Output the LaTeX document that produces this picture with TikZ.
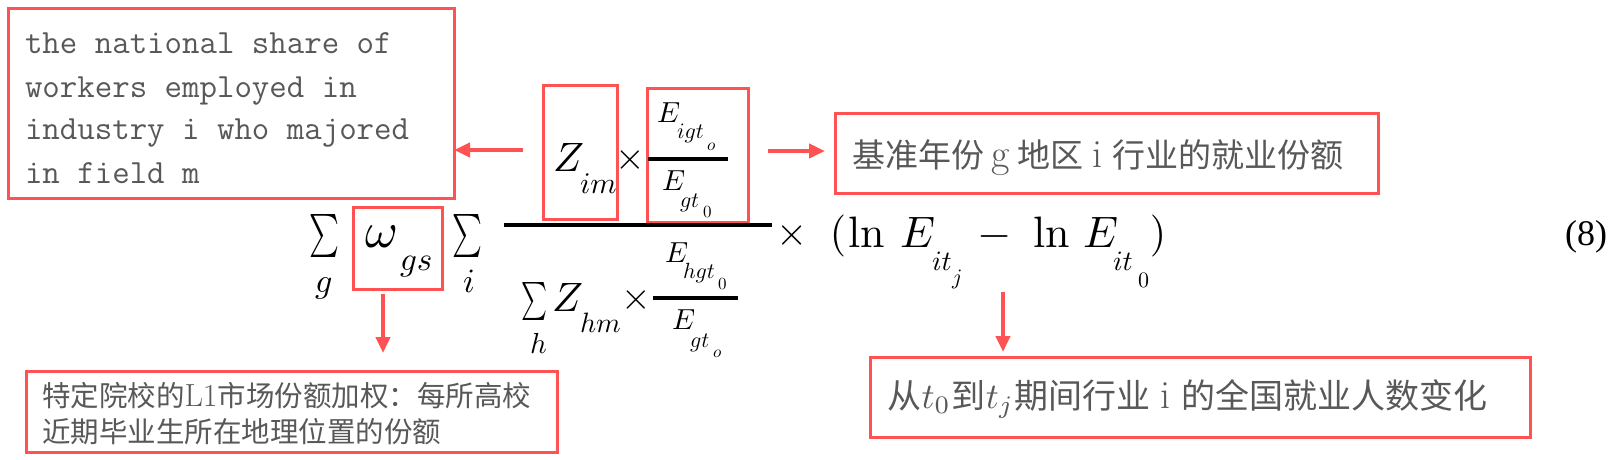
\documentclass[tikz,border=0pt]{standalone}
\usepackage{fontspec}
\usepackage{graphicx}
\usetikzlibrary{arrows.meta}
\newfontfamily\cjk{Noto Sans CJK SC}
\newfontfamily\tnr{Liberation Serif}
\newcommand\fs[1]{\fontsize{#1}{#1}\selectfont}
\newcommand\mth[2]{\scalebox{#1}{$#2$}}
\newcommand\tmth[2]{\scalebox{#1}{\fontsize{10}{12}\selectfont$#2$}}
\newcommand\lat[2]{{\rmfamily\fontsize{#1}{#1}\selectfont #2}}
\definecolor{rd}{RGB}{255,82,82}
\definecolor{txg}{RGB}{88,88,88}
\begin{document}
\begin{tikzpicture}[x=1pt,y=-1pt,
  m/.style={inner sep=0pt,outer sep=0pt,anchor=base west},
  mc/.style={inner sep=0pt,outer sep=0pt,anchor=center},
  tx/.style={text=txg,inner sep=0pt,outer sep=0pt,anchor=base west},
  rbox/.style={draw=rd,line width=3pt,inner sep=0pt,outer sep=0pt},
  rarrow/.style={draw=rd,line width=4pt,-{Triangle[length=16pt,width=14pt]}},
  fbar/.style={line width=3.2pt}]
\useasboundingbox (0,0) rectangle (1617,459);
\fill[white] (0,0) rectangle (1617,459);

% red boxes
\node[rbox,minimum width=446pt,minimum height=190pt] (b1) at (231,103) {};
\node[rbox,minimum width=74pt,minimum height=134pt] (bz) at (580,152) {};
\node[rbox,minimum width=101pt,minimum height=134pt] (be) at (697.5,155) {};
\node[rbox,minimum width=89pt,minimum height=82pt] (bw) at (397.5,248) {};
\node[rbox,minimum width=543pt,minimum height=80pt] (b2) at (1106.5,153) {};
\node[rbox,minimum width=531pt,minimum height=81pt] (b3) at (291.5,411.5) {};
\node[rbox,minimum width=660pt,minimum height=80pt] (b4) at (1200,397) {};

% box texts
\node[tx] (t1a) at (25,53) {\ttfamily\fs{33.9}the national share of};
\node[tx] (t1b) at (25,97) {\ttfamily\fs{33.9}workers employed in};
\node[tx] (t1c) at (25,139) {\ttfamily\fs{33.9}industry i who majored};
\node[tx] (t1d) at (25,183) {\ttfamily\fs{33.9}in field m};
\node[tx] (t2) at (852,167) {\cjk\fs{33}基准年份\makebox[1em]{\lat{40}{g}}地区\makebox[0.9em]{\lat{40}{i}}行业的就业份额};
\node[tx] (t3a) at (42,406) {\cjk\fs{28.5}特定院校的\lat{32}{L1}市场份额加权：每所高校};
\node[tx] (t3b) at (42,442) {\cjk\fs{28.5}近期毕业生所在地理位置的份额};
\node[tx] (t4) at (887,408) {\cjk\fs{34}从\makebox[0.9em]{\tmth{3.6}{t_0}}到\makebox[0.85em]{\tmth{3.6}{t_j}}期间行业\makebox[0.9em]{\lat{40}{i}}的全国就业人数变化};

% formula: left part
\node[mc] (sg) at (324,235.5) {\scalebox{2.84}[4.3]{$\textstyle\sum$}};
\node[m] (lg) at (315,292) {\mth{3.4}{g}};
\node[m] (om) at (365,247) {\mth{5.0}{\omega}};
\node[m] (omsub) at (400,270) {\mth{3.3}{gs}};
\node[mc] (si) at (467,235.5) {\scalebox{2.84}[4.3]{$\textstyle\sum$}};
\node[m] (li) at (463,292) {\mth{3.4}{i}};

% numerator
\node[m] (zn) at (553,171) {\mth{4.1}{Z}};
\node[m] (zns) at (580,193) {\mth{3.0}{im}};
\node[mc] (xn) at (630,160) {\mth{3.8}{\times}};
\node[m] (en1) at (657,122) {\mth{2.9}{E}};
\node[m] (en1s) at (677,138) {\mth{2.2}{igt}};
\node[m] (en1ss) at (707,150) {\mth{1.7}{o}};
\node[m] (en2) at (662,190) {\mth{2.9}{E}};
\node[m] (en2s) at (680,207) {\mth{2.2}{gt}};
\node[m] (en2ss) at (703,217) {\mth{1.7}{0}};
\coordinate (ib1a) at (648,159); \coordinate (ib1b) at (728,159);
\draw[fbar] (ib1a) -- (ib1b);

% main fraction bar
\coordinate (mba) at (504,225); \coordinate (mbb) at (772,225);
\draw[line width=3.5pt] (mba) -- (mbb);

% denominator
\node[mc] (sh) at (535,301) {\scalebox{2.47}[3.8]{$\textstyle\sum$}};
\node[m] (lh) at (530,353) {\mth{2.9}{h}};
\node[m] (zd) at (552,311) {\mth{4.1}{Z}};
\node[m] (zds) at (580,332) {\mth{2.8}{hm}};
\node[mc] (xd) at (636,300) {\mth{3.8}{\times}};
\node[m] (ed1) at (665,262) {\mth{2.9}{E}};
\node[m] (ed1s) at (683,278) {\mth{2.2}{hgt}};
\node[m] (ed1ss) at (718,289) {\mth{1.7}{0}};
\node[m] (ed2) at (672,329) {\mth{2.9}{E}};
\node[m] (ed2s) at (690,347) {\mth{2.2}{gt}};
\node[m] (ed2ss) at (713,357) {\mth{1.7}{o}};
\coordinate (ib2a) at (653,298); \coordinate (ib2b) at (738,298);
\draw[fbar] (ib2a) -- (ib2b);

% right part
\node[mc] (xm) at (792,235) {\mth{4.0}{\times}};
\node[mc] (lp) at (838,236) {\mth{4.2}{(}};
\node[m] (ln1) at (848,247) {\mth{4.4}{\ln}};
\node[m] (e1) at (900,247) {\mth{4.4}{E}};
\node[m] (e1s) at (932,270) {\mth{2.8}{it}};
\node[m] (e1ss) at (952,284) {\mth{2.2}{j}};
\node[mc] (mi) at (995,236) {\mth{4.4}{-}};
\node[m] (ln2) at (1033,247) {\mth{4.4}{\ln}};
\node[m] (e2) at (1083,247) {\mth{4.4}{E}};
\node[m] (e2s) at (1113,270) {\mth{2.8}{it}};
\node[m] (e2ss) at (1138,287) {\mth{2.2}{0}};
\node[mc] (rp) at (1158,236) {\mth{4.2}{)}};
\node[mc] (eq) at (1586,236.5) {\tnr\fs{36}(8)};

% arrows
\coordinate (a1s) at (523,150);
\draw[rarrow] (a1s) -- (a1s -| b1.east);
\coordinate (a2s) at (768,151);
\draw[rarrow] (a2s) -- ([xshift=-10pt]a2s -| b2.west);
\coordinate (a3s) at (383,294);
\draw[rarrow] (a3s) -- ([yshift=18pt]a3s |- b3.north);
\coordinate (a4s) at (1003,292);
\draw[rarrow] (a4s) -- ([yshift=5pt]a4s |- b4.north);
\end{tikzpicture}
\end{document}
